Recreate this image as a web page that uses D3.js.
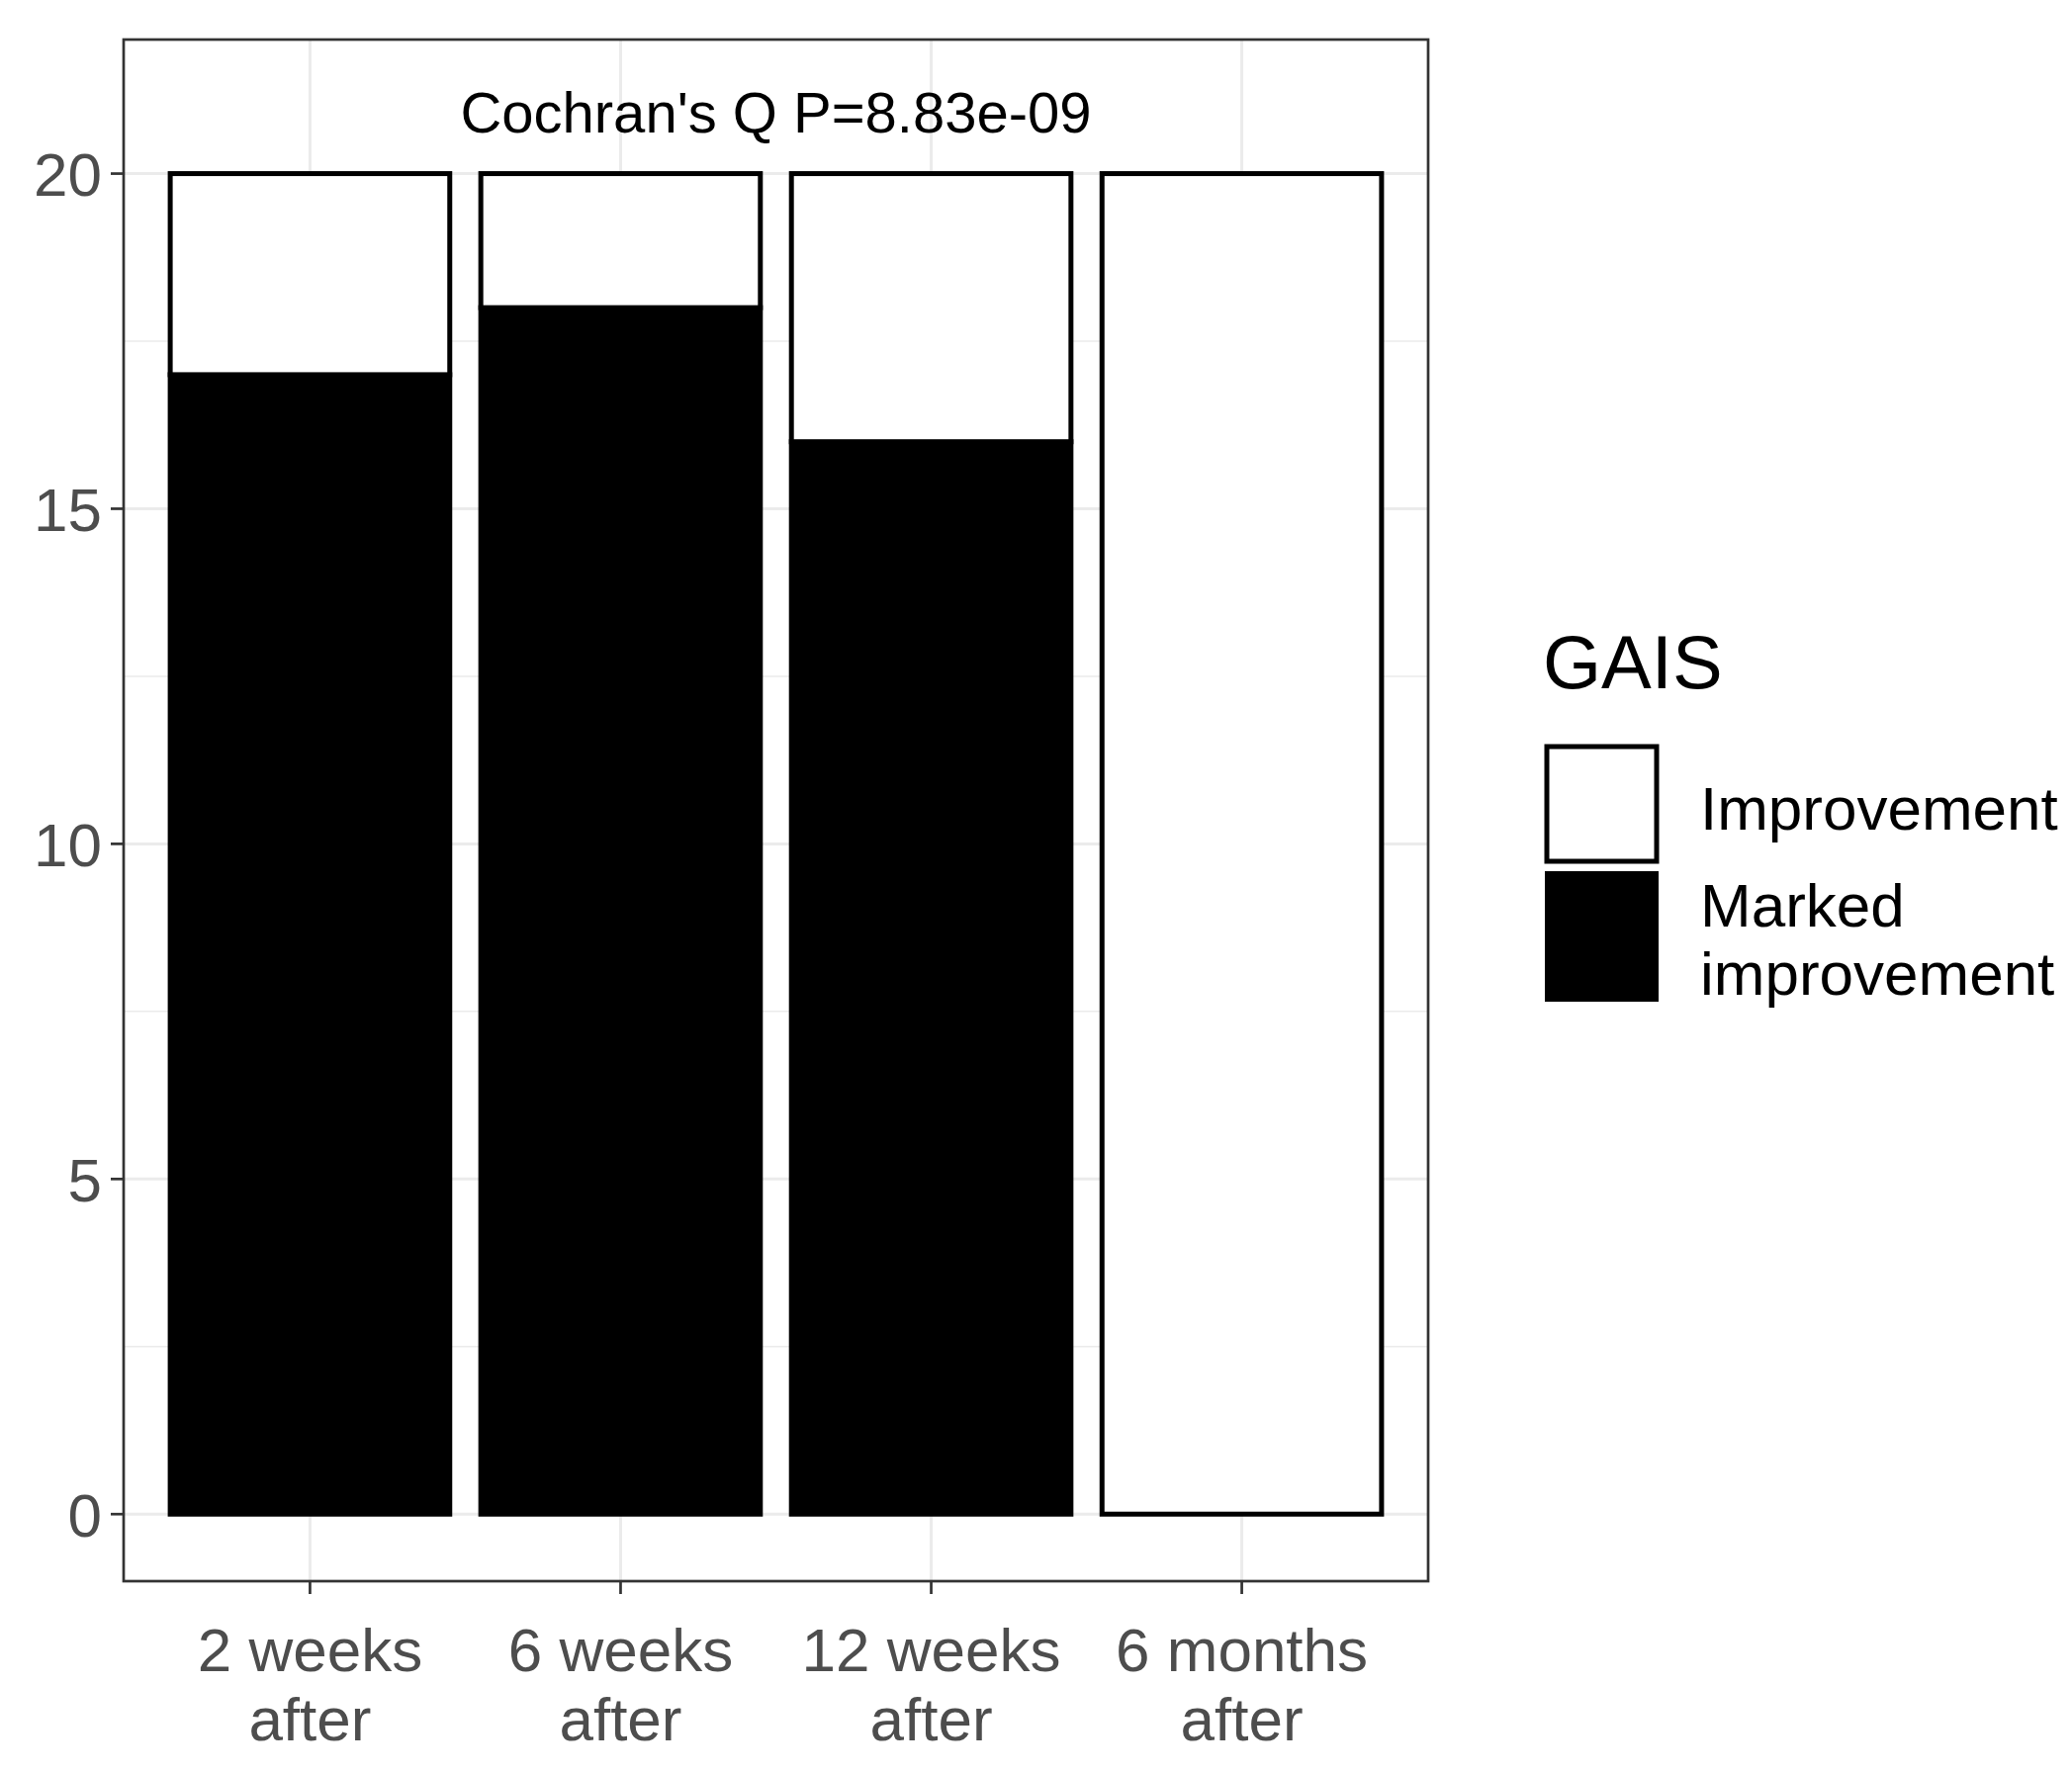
<!DOCTYPE html>
<html><head><meta charset="utf-8">
<script src="https://cdn.jsdelivr.net/npm/d3@7"></script>
<style>body{margin:0;background:#fff}text{font-family:"Liberation Sans Narrow","Arial Narrow","Liberation Sans",sans-serif}</style>
</head><body><div id="vis"></div>
<script>
// ── Data ──
const categories = ["2 weeks\nafter", "6 weeks\nafter", "12 weeks\nafter", "6 months\nafter"];
const marked = [17, 18, 16, 0];
const improvement = [3, 2, 4, 20];
const yTicks = [0, 5, 10, 15, 20];
const yMinor = [2.5, 7.5, 12.5, 17.5];

const W = 2095, H = 1793;
const P = { l: 125, r: 1444, t: 40, b: 1599 };

const svg = d3.select("#vis").append("svg").attr("width", W).attr("height", H);
const x = d3.scaleLinear().domain([0.4, 4.6]).range([P.l, P.r]);
const y = d3.scaleLinear().domain([-1, 22]).range([P.b, P.t]);
const bw = x(0.9) - x(0);

// ── Grid ──
const g = svg.append("g");
g.selectAll("line.mn").data(yMinor).join("line")
  .attr("x1", P.l).attr("x2", P.r).attr("y1", y).attr("y2", y)
  .attr("stroke", "#ebebeb").attr("stroke-width", 1.5);
g.selectAll("line.mj").data(yTicks).join("line")
  .attr("x1", P.l).attr("x2", P.r).attr("y1", y).attr("y2", y)
  .attr("stroke", "#ebebeb").attr("stroke-width", 3);
g.selectAll("line.vx").data(categories).join("line")
  .attr("x1", (d, i) => x(i + 1)).attr("x2", (d, i) => x(i + 1)).attr("y1", P.t).attr("y2", P.b)
  .attr("stroke", "#ebebeb").attr("stroke-width", 3);

// ── Bars ──
const bars = svg.append("g");
categories.forEach((c, i) => {
  const x0 = x(i + 1) - bw / 2;
  bars.append("rect").attr("x", x0).attr("width", bw)
    .attr("y", y(marked[i])).attr("height", y(0) - y(marked[i]))
    .attr("fill", "#000").attr("stroke", "#000").attr("stroke-width", 5);
  const top = marked[i] + improvement[i];
  bars.append("rect").attr("x", x0).attr("width", bw)
    .attr("y", y(top)).attr("height", y(marked[i]) - y(top))
    .attr("fill", "#fff").attr("stroke", "#000").attr("stroke-width", 5);
});

// ── Panel border + ticks ──
svg.append("rect").attr("x", P.l).attr("y", P.t).attr("width", P.r - P.l).attr("height", P.b - P.t)
  .attr("fill", "none").attr("stroke", "#333").attr("stroke-width", 2.7);
svg.selectAll("line.yt").data(yTicks).join("line")
  .attr("x1", P.l - 13).attr("x2", P.l).attr("y1", y).attr("y2", y)
  .attr("stroke", "#333").attr("stroke-width", 2.7);
svg.selectAll("text.yl").data(yTicks).join("text")
  .attr("x", P.l - 22).attr("y", y).attr("dy", "0.36em").attr("text-anchor", "end")
  .attr("font-size", 62).attr("fill", "#4d4d4d").text(d => d);
categories.forEach((c, i) => {
  svg.append("line").attr("x1", x(i + 1)).attr("x2", x(i + 1)).attr("y1", P.b).attr("y2", P.b + 13)
    .attr("stroke", "#333").attr("stroke-width", 2.7);
  c.split("\n").forEach((s, k) => {
    svg.append("text").attr("x", x(i + 1)).attr("y", 1690 + k * 70).attr("text-anchor", "middle")
      .attr("font-size", 62).attr("fill", "#4d4d4d").text(s);
  });
});

// ── Annotation ──
svg.append("text").attr("x", x(2.5)).attr("y", 134).attr("text-anchor", "middle")
  .attr("font-size", 58).attr("fill", "#000").text("Cochran's Q P=8.83e-09");

// ── Legend ──
const lg = svg.append("g");
lg.append("text").attr("x", 1560).attr("y", 696).attr("font-size", 76).text("GAIS");
lg.append("rect").attr("x", 1564).attr("y", 755).attr("width", 111).attr("height", 116)
  .attr("fill", "#fff").attr("stroke", "#000").attr("stroke-width", 5);
lg.append("rect").attr("x", 1562).attr("y", 881).attr("width", 115).attr("height", 132)
  .attr("fill", "#000");
lg.append("text").attr("x", 1719).attr("y", 839).attr("font-size", 62).text("Improvement");
lg.append("text").attr("x", 1719).attr("y", 937).attr("font-size", 62).text("Marked");
lg.append("text").attr("x", 1719).attr("y", 1006).attr("font-size", 62).text("improvement");
</script></body></html>
